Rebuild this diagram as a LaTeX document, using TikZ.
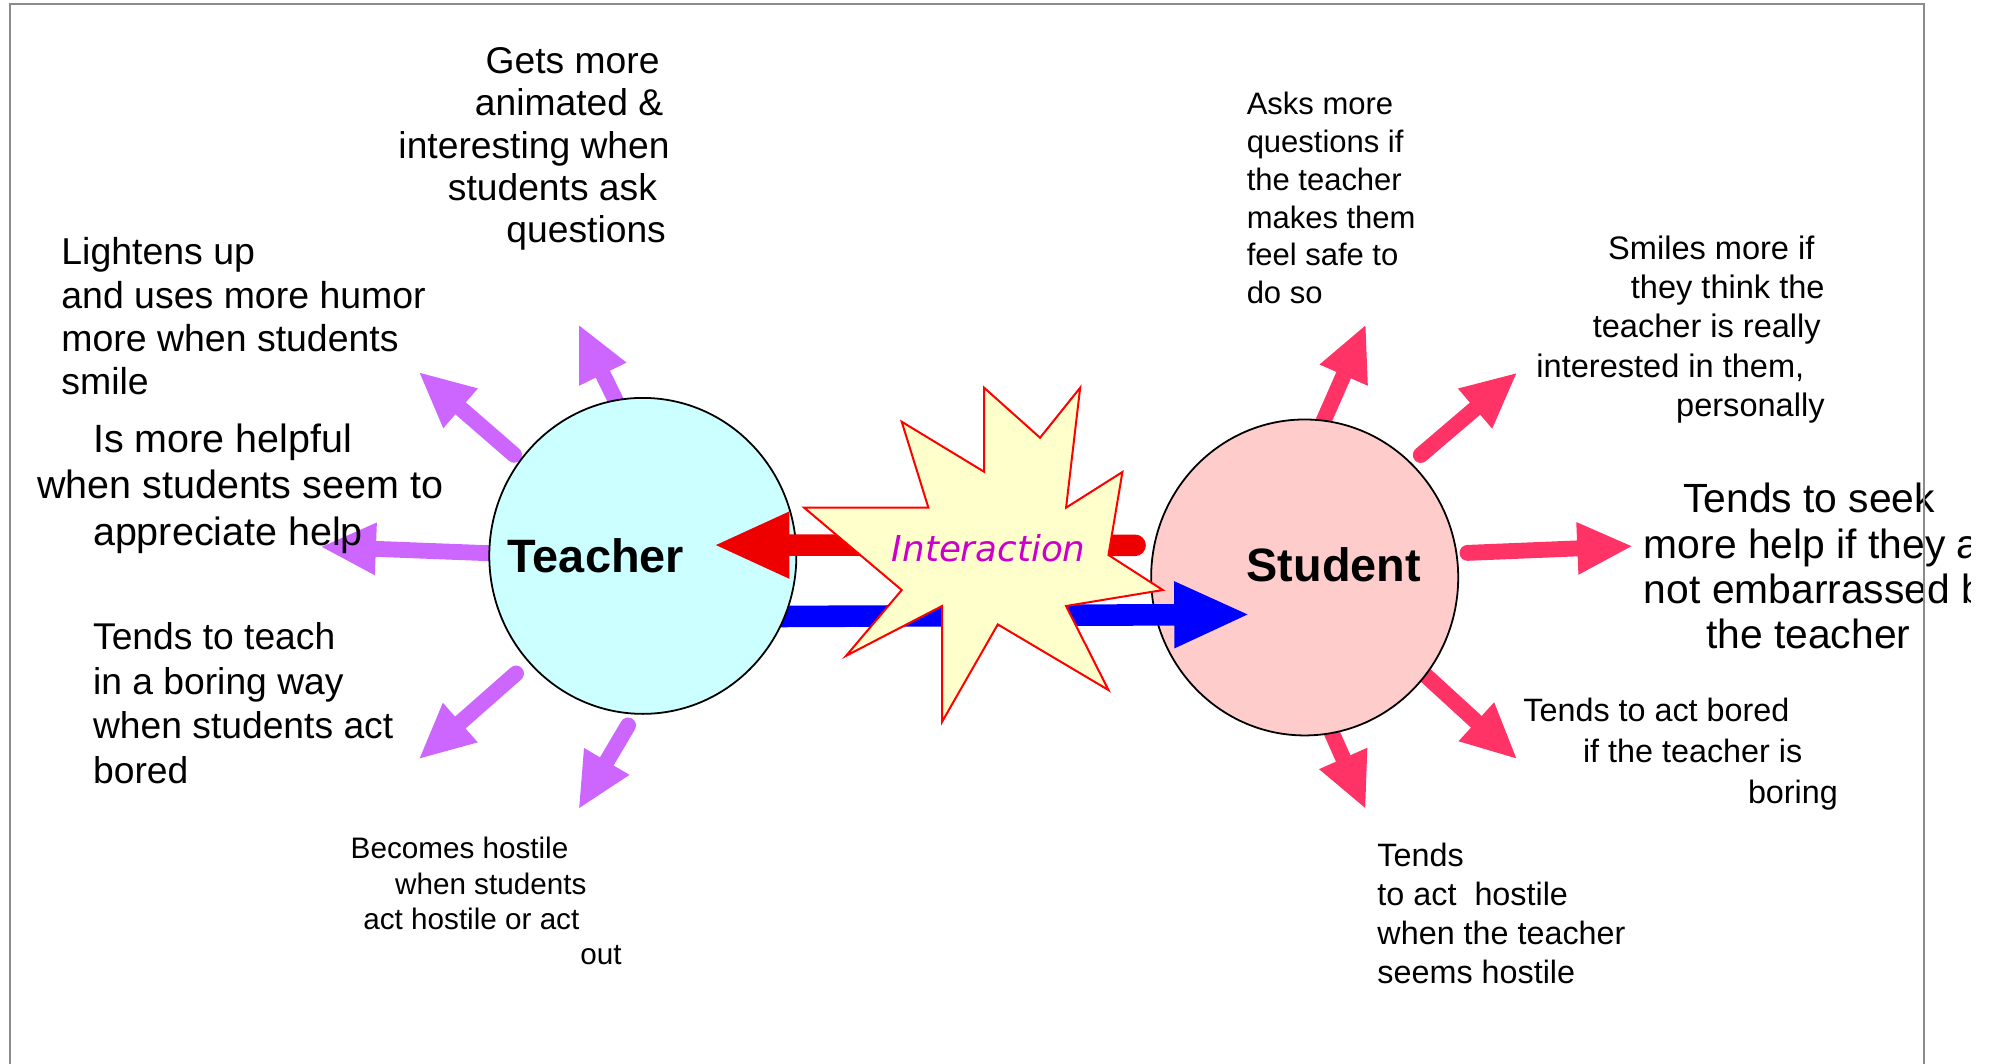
\documentclass[tikz,border=0pt]{standalone}
\usepackage{fontspec}
\setmainfont{Liberation Sans}
\newfontfamily\burstfont{DejaVu Sans}
\usetikzlibrary{arrows.meta, shapes.geometric}

\definecolor{tcyan}{HTML}{CCFFFF}
\definecolor{spink}{HTML}{FFCCCC}
\definecolor{tpurple}{HTML}{CC66FF}
\definecolor{srose}{HTML}{FF3366}
\definecolor{ired}{HTML}{EE0000}
\definecolor{iblue}{HTML}{0000FF}
\definecolor{burstfill}{HTML}{FFFFCC}
\definecolor{burstline}{HTML}{FF0000}
\definecolor{imagenta}{HTML}{CC00CC}
\definecolor{framegray}{HTML}{8C8C8C}

\pgfdeclarelayer{bg}
\pgfdeclarelayer{fg}
\pgfsetlayers{bg,main,fg}

% trailing blank at the end of a line
\newcommand{\tailgap}[1]{\rule{#1}{0pt}}

\tikzset{
  ball/.style={ellipse, draw=black, line width=0.8pt, minimum width=4.84cm, minimum height=4.98cm, inner sep=0pt},
  spoke/.style={line width=0.25cm, line cap=round, -{Triangle[length=0.88cm, width=0.76cm]}},
  bigarrow/.style={line width=0.34cm, -{Triangle[length=1.2cm, width=0.96cm]}},
  note/.style={inner sep=0pt, text=black},
  burst/.style={draw=burstline, fill=burstfill, line width=0.9pt, line join=miter},
}

\begin{document}
\begin{tikzpicture}[x=0.02cm, y=-0.02cm]
  \useasboundingbox (0,0) rectangle (1568,838);

  % the two people
  \begin{pgfonlayer}{fg}
    \node[ball, fill=tcyan, label={[xshift=-0.74cm, font=\fontsize{21}{25}\selectfont\bfseries]center:Teacher}] (teacher) at (506.5,438) {};
  \end{pgfonlayer}
  \node[ball, fill=spink, label={[xshift=0.46cm, yshift=0.2cm, font=\fontsize{21}{25}\selectfont\bfseries]center:Student}] (student) at (1028,455) {};

  \draw[bigarrow, iblue, shorten <=-0.3cm, shorten >=-1.51cm] (teacher.-23) -- (student.194);

  % arrow tips around the circles
  \coordinate (t-ask) at (455.7,255.3);
  \coordinate (t-smile) at (329.7,292.9);
  \coordinate (t-help) at (252.2,430.8);
  \coordinate (t-bored) at (329.7,598.4);
  \coordinate (t-hostile) at (455.7,637.8);
  \coordinate (s-ask) at (1076.4,255.3);
  \coordinate (s-smile) at (1195.7,293.4);
  \coordinate (s-help) at (1286.8,430.3);
  \coordinate (s-bored) at (1195.7,598.4);
  \coordinate (s-hostile) at (1076.2,637.8);

  \begin{pgfonlayer}{bg}
    \draw[spoke, tpurple, shorten <=-0.3cm] (teacher.100) -- (t-ask);
    \draw[spoke, tpurple, shorten <=0.12cm] (teacher.142) -- (t-smile);
    \draw[spoke, tpurple, shorten <=-0.3cm] (teacher.179) -- (t-help);
    \draw[spoke, tpurple, shorten <=0.26cm] (teacher.223) -- (t-bored);
    \draw[spoke, tpurple, shorten <=0.2cm] (teacher.267) -- (t-hostile);
    \draw[spoke, srose, shorten <=-0.3cm] (student.83) -- (s-ask);
    \draw[spoke, srose, shorten <=0.19cm] (student.47) -- (s-smile);
    \draw[spoke, srose, shorten <=0.16cm] (student.9) -- (s-help);
    \draw[spoke, srose, shorten <=-0.3cm] (student.321) -- (s-bored);
    \draw[spoke, srose, shorten <=-0.3cm] (student.280) -- (s-hostile);
  \end{pgfonlayer}

  \begin{pgfonlayer}{fg}
    \draw[bigarrow, ired, line cap=round, shorten <=0.29cm, shorten >=-1.32cm] (student.168) -- (teacher.4);

    % the clash in the middle
    \draw[burst] (633.6,400) -- (731.5,400) -- (710.5,332.3) -- (775.4,371.7) -- (775.4,305.5)
      -- (819.5,344.9) -- (851.1,305.5) -- (840,400) -- (884.4,371.9) -- (873.4,437.3)
      -- (916.2,464.9) -- (840,477.5) -- (873.4,543.7) -- (786.2,492) -- (742.3,568.7)
      -- (742.3,477.5) -- (666.7,516.7) -- (710.5,464.9) -- cycle;
    \node[font=\burstfont\itshape\fontsize{16}{19}\selectfont, text=imagenta] (interaction) at (779,432) {Interaction};

    % teacher side
    \node[note, anchor=north east, align=right, font=\fontsize{16.7}{19}\selectfont] (t-ask-text) at (528,37)
      {Gets more\tailgap{0.16cm}\\animated \&\tailgap{0.1cm}\\interesting when\\students ask\tailgap{0.2cm}\\questions\tailgap{0.06cm}};
    \node[note, anchor=north west, align=left, font=\fontsize{16.8}{19.4}\selectfont] (t-smile-text) at (48,187)
      {Lightens up\\and uses more humor\\more when students\\smile};
    \node[note, anchor=north west, align=left, font=\fontsize{17.7}{20.8}\selectfont] (t-help-text) at (29,333.5)
      {\hspace*{0.88cm}Is more helpful\\when students seem to\\\hspace*{0.88cm}appreciate help};
    \node[note, anchor=north west, align=left, font=\fontsize{16.7}{20.1}\selectfont] (t-bored-text) at (73,490)
      {Tends to teach\\in a boring way\\when students act\\bored};
    \node[note, anchor=north west, align=left, font=\fontsize{13.3}{15.8}\selectfont] (t-hostile-text) at (276,659.4)
      {Becomes hostile\\\hspace*{0.7cm}when students\\\hspace*{0.2cm}act hostile or act\\\hspace*{3.62cm}out};

    % student side
    \node[note, anchor=north west, align=left, font=\fontsize{13.9}{17}\selectfont] (s-ask-text) at (982,72)
      {Asks more\\questions if\\the teacher\\makes them\\feel safe to\\do so};
    \node[note, anchor=north east, align=right, font=\fontsize{14.6}{17.6}\selectfont] (s-smile-text) at (1438,185.5)
      {Smiles more if\tailgap{0.16cm}\\they think the\\teacher is really\tailgap{0.06cm}\\interested in them,\tailgap{0.32cm}\\personally};
    \begin{scope}
      \clip (0,0) rectangle (1553,838);
      \node[note, anchor=north west, align=left, font=\fontsize{18.3}{20.3}\selectfont] (s-help-text) at (1295,380.5)
        {\hspace*{0.62cm}Tends to seek\\more help if they a\\not embarrassed b\\\hspace*{0.98cm}the teacher};
    \end{scope}
    \node[note, anchor=north west, align=left, font=\fontsize{14.5}{18.5}\selectfont] (s-bored-text) at (1200,549.6)
      {Tends to act bored\\\hspace*{0.94cm}if the teacher is\\\hspace*{3.54cm}boring};
    \node[note, anchor=north west, align=left, font=\fontsize{14.5}{17.6}\selectfont] (s-hostile-text) at (1085,663.6)
      {Tends\\to act\ \ hostile\\when the teacher\\seems hostile};

    % slide frame
    \draw[framegray, line width=0.7pt] (8,838) -- (8,3) -- (1516,3) -- (1516,838);
  \end{pgfonlayer}
\end{tikzpicture}
\end{document}
